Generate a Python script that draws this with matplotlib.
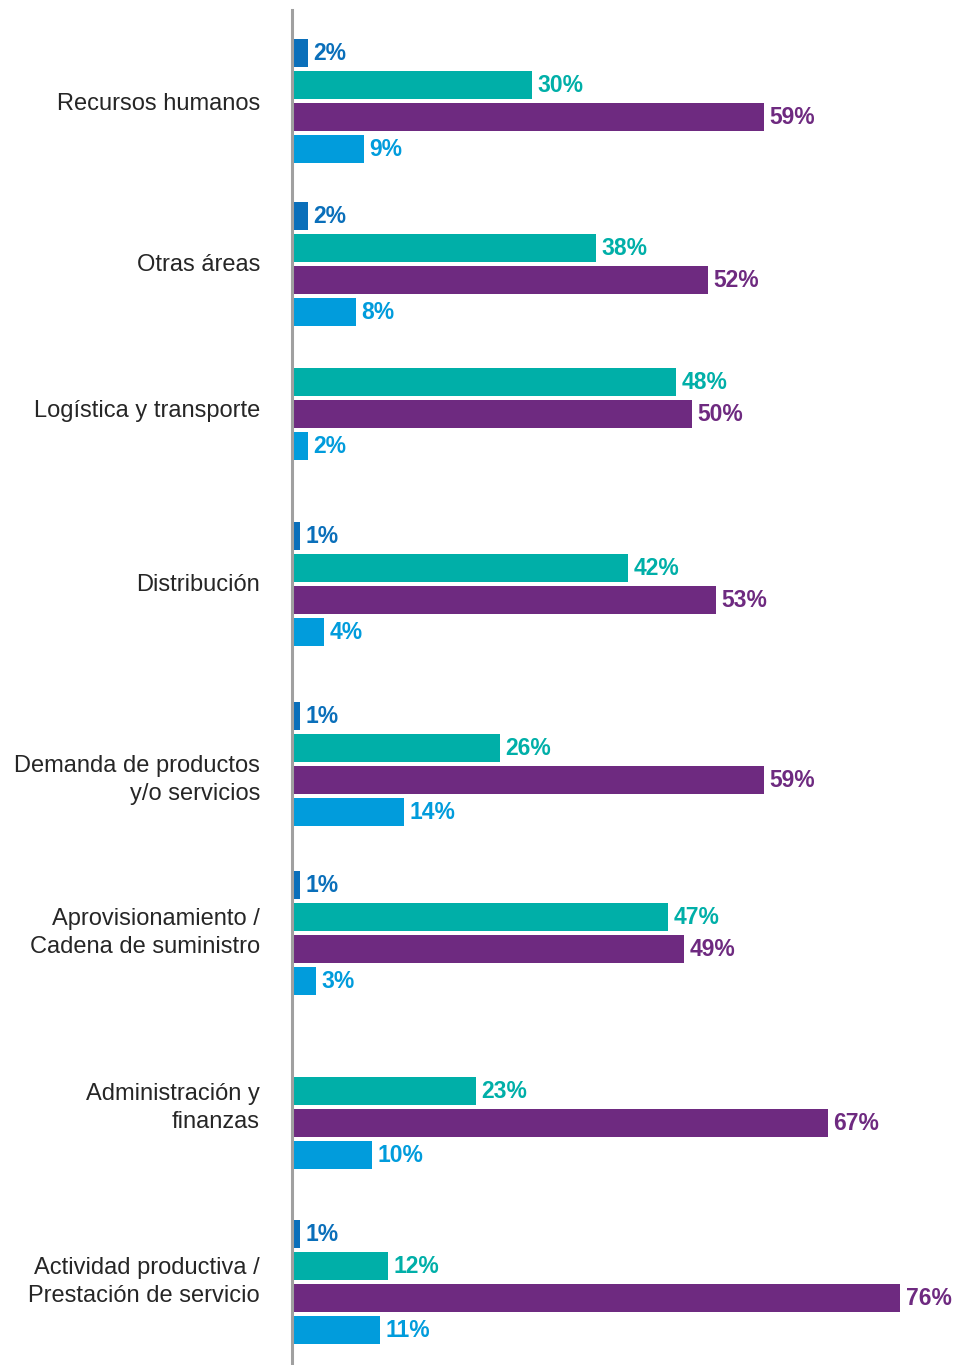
import numpy as np
import matplotlib.pyplot as plt

# Datos
categorias = [
    "Recursos humanos",
    "Otras áreas",
    "Logística y transporte",
    "Distribución",
    "Demanda de productos\ny/o servicios",
    "Aprovisionamiento /\nCadena de suministro",
    "Administración y\nfinanzas",
    "Actividad productiva /\nPrestación de servicio",
]
serie_1 = [2, 2, None, 1, 1, 1, None, 1]
serie_2 = [30, 38, 48, 42, 26, 47, 23, 12]
serie_3 = [59, 52, 50, 53, 59, 49, 67, 76]
serie_4 = [9, 8, 2, 4, 14, 3, 10, 11]

colores = ["#0a6fba", "#00afa8", "#6e2a80", "#019cdc"]

# Posicion vertical (px) del centro de cada grupo y de su etiqueta
centros = [101, 264, 414, 584, 764, 933, 1123, 1282]
centros_txt = [104, 265, 411, 585, 780, 933, 1108, 1282]
paso = 32
alto = 28

W, H = 956, 1365
fig = plt.figure(figsize=(W / 100, H / 100), dpi=100)
x0 = 292
ax = fig.add_axes([x0 / W, 0, 1 - x0 / W, 1 - 10 / H])
ax.set_ylim(H, 10)
ax.set_xlim(0, (W - x0) / 8.0)

series = [serie_1, serie_2, serie_3, serie_4]
for g, (cat, c) in enumerate(zip(categorias, centros)):
    vals = [(s[g], col) for s, col in zip(series, colores) if s[g] is not None]
    n = len(vals)
    for i, (v, col) in enumerate(vals):
        y = c + (i - (n - 1) / 2) * paso
        ax.barh(y, v, height=alto, color=col, linewidth=0)
        ax.annotate(f"{v}%", (v, y), xytext=(4, 0), textcoords="offset points",
                    va="center", ha="left", color=col, fontsize=16.5, fontweight="bold",
                    family=["Liberation Sans", "DejaVu Sans"])
    fig.text((x0 - 32) / W, 1 - centros_txt[g] / H, cat, ha="right", va="center",
             fontsize=17, color="#262626", linespacing=1.32,
             family=["Liberation Sans", "DejaVu Sans"])

for s in ["top", "right", "bottom"]:
    ax.spines[s].set_visible(False)
ax.spines["left"].set_color("#a0a0a0")
ax.spines["left"].set_linewidth(2.2)
ax.set_xticks([])
ax.set_yticks([])
ax.patch.set_alpha(0)

fig.savefig("out.png", dpi=100)
